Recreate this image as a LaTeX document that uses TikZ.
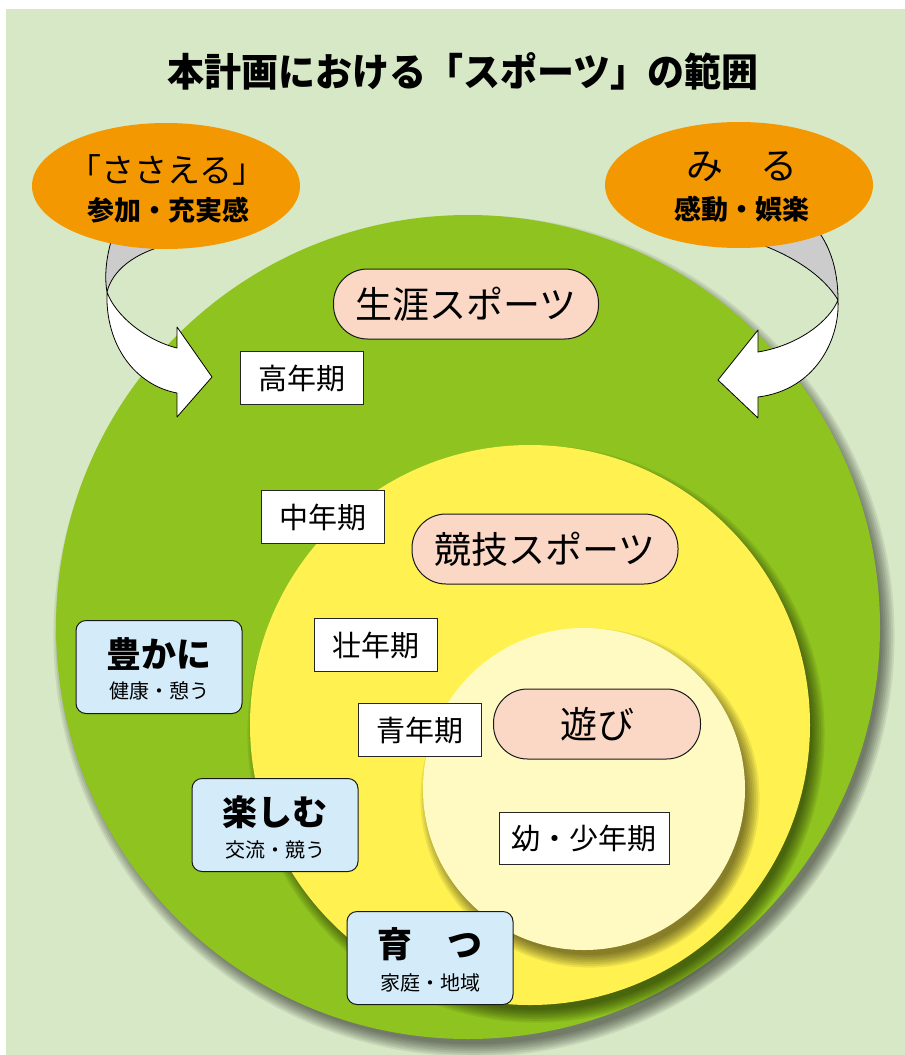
\documentclass[tikz,border=0pt]{standalone}
\usepackage{fontspec}
\newfontfamily\jp{Noto Sans CJK JP}
\usetikzlibrary{shapes.geometric}
\definecolor{bggreen}{HTML}{D7E8C6}
\definecolor{greenc}{HTML}{8FC31F}
\definecolor{yellowc}{HTML}{FFF250}
\definecolor{lyellowc}{HTML}{FFFAC2}
\definecolor{orangec}{HTML}{F39800}
\definecolor{pinkc}{HTML}{FAD8C5}
\definecolor{bluec}{HTML}{D4ECFA}
\definecolor{greyc}{HTML}{CCCCCC}
\tikzset{
  agebox/.style={draw=black!85, line width=1pt, fill=white, minimum width=123pt, minimum height=53pt, inner sep=0pt, font=\jp\fontsize{29}{32}\selectfont},
  pill/.style={draw=black!90, line width=1pt, fill=pinkc, rounded corners=34pt, minimum height=70pt, inner sep=0pt, font=\jp\fontsize{37}{40}\selectfont},
  bluebox/.style={draw=black!90, line width=1pt, fill=bluec, rounded corners=10pt, minimum width=166pt, minimum height=93pt, inner sep=0pt},
  bigt/.style={font=\jp\bfseries\fontsize{35}{38}\selectfont, inner sep=0pt},
  smallt/.style={font=\jp\fontsize{20}{24}\selectfont, inner sep=0pt},
  ovalbox/.style={ellipse, fill=orangec, minimum width=268pt, minimum height=126pt, inner sep=0pt},
  arrowband/.style={fill=white, draw=black, line width=0.8pt, line join=round},
  arrowback/.style={fill=greyc, draw=black, line width=0.8pt, line join=round}
}
\newcommand{\softshadow}[3]{%
  \foreach \k in {0,...,7}{\fill[black, opacity=0.075] (#1+6, #2+9) circle ({#3+\k*1.8pt});}}
\begin{document}
\begin{tikzpicture}[x=1pt,y=-1pt]
\useasboundingbox (0,0) rectangle (905,1055);
\fill[white] (0,0) rectangle (905,1055);
\fill[bggreen] (6,9) rectangle (905,1055);

% title
\node[font=\jp\bfseries\fontsize{37}{40}\selectfont, inner sep=0pt, yscale=1.05] (title) at (463,71) {本計画における「スポーツ」の範囲};

% green circle
\softshadow{468}{627}{408pt}
\fill[greenc] (468,627) circle (412pt);

% arrows (back parts first)
\path[arrowback] (118,222) .. controls (106,250) and (104,275) .. (107,292)
   .. controls (112,272) and (132,252) .. (175,243) -- cycle;
\path[arrowband] (107,292) .. controls (115,315) and (145,340) .. (177,348)
   -- (177,327) -- (212,377) -- (177,417) -- (177,393)
   .. controls (135,385) and (105,345) .. (107,292) -- cycle;
\path[arrowback] (808,220) .. controls (830,240) and (838,270) .. (838,300)
   .. controls (825,278) and (795,255) .. (748,240) -- cycle;
\path[arrowband] (838,300) .. controls (830,320) and (800,345) .. (758,352)
   -- (758,330) -- (718,380) -- (758,418) -- (758,397)
   .. controls (815,390) and (840,340) .. (838,300) -- cycle;

% orange ovals
\node[ovalbox] (sasaeru) at (166,186) {};
\node[font=\jp\fontsize{33}{36}\selectfont, inner sep=0pt] (sasaeru-t) at (167,170) {「ささえる」};
\node[font=\jp\bfseries\fontsize{27}{30}\selectfont, inner sep=0pt] (sasaeru-s) at (168,210) {参加・充実感};
\node[ovalbox] (miru) at (739,185) {};
\node[font=\jp\fontsize{37}{40}\selectfont, inner sep=0pt] (miru-t) at (742,167) {み　る};
\node[font=\jp\bfseries\fontsize{27}{30}\selectfont, inner sep=0pt] (miru-s) at (742,209) {感動・娯楽};

% yellow circle
\softshadow{530}{725}{276pt}
\fill[yellowc] (530,725) circle (280pt);
% light yellow circle
\softshadow{584}{789}{157pt}
\fill[lyellowc] (584,789) circle (161pt);

% pills
\node[pill, minimum width=265pt] (shogai) at (466,304) {生涯スポーツ};
\node[pill, minimum width=266pt] (kyogi) at (545,549) {競技スポーツ};
\node[pill, minimum width=207pt] (asobi) at (597,724) {遊び};

% age boxes
\node[agebox] (koki) at (302,378) {高年期};
\node[agebox] (chuki) at (323,517) {中年期};
\node[agebox] (soki) at (376,645) {壮年期};
\node[agebox] (seiki) at (420,730) {青年期};
\node[agebox, minimum width=170pt, minimum height=52pt] (yoki) at (584,838) {幼・少年期};

% blue boxes
\node[bluebox] (yutaka) at (159,667) {};
\node[bigt] (yutaka-t) at (159,654) {豊かに};
\node[smallt] (yutaka-s) at (159,691) {健康・憩う};
\node[bluebox] (tanoshimu) at (275,825) {};
\node[bigt] (tanoshimu-t) at (275,812) {楽しむ};
\node[smallt] (tanoshimu-s) at (275,850) {交流・競う};
\node[bluebox] (sodatsu) at (430,958) {};
\node[bigt] (sodatsu-t) at (430,944) {育　つ};
\node[smallt] (sodatsu-s) at (430,983) {家庭・地域};
\end{tikzpicture}
\end{document}
